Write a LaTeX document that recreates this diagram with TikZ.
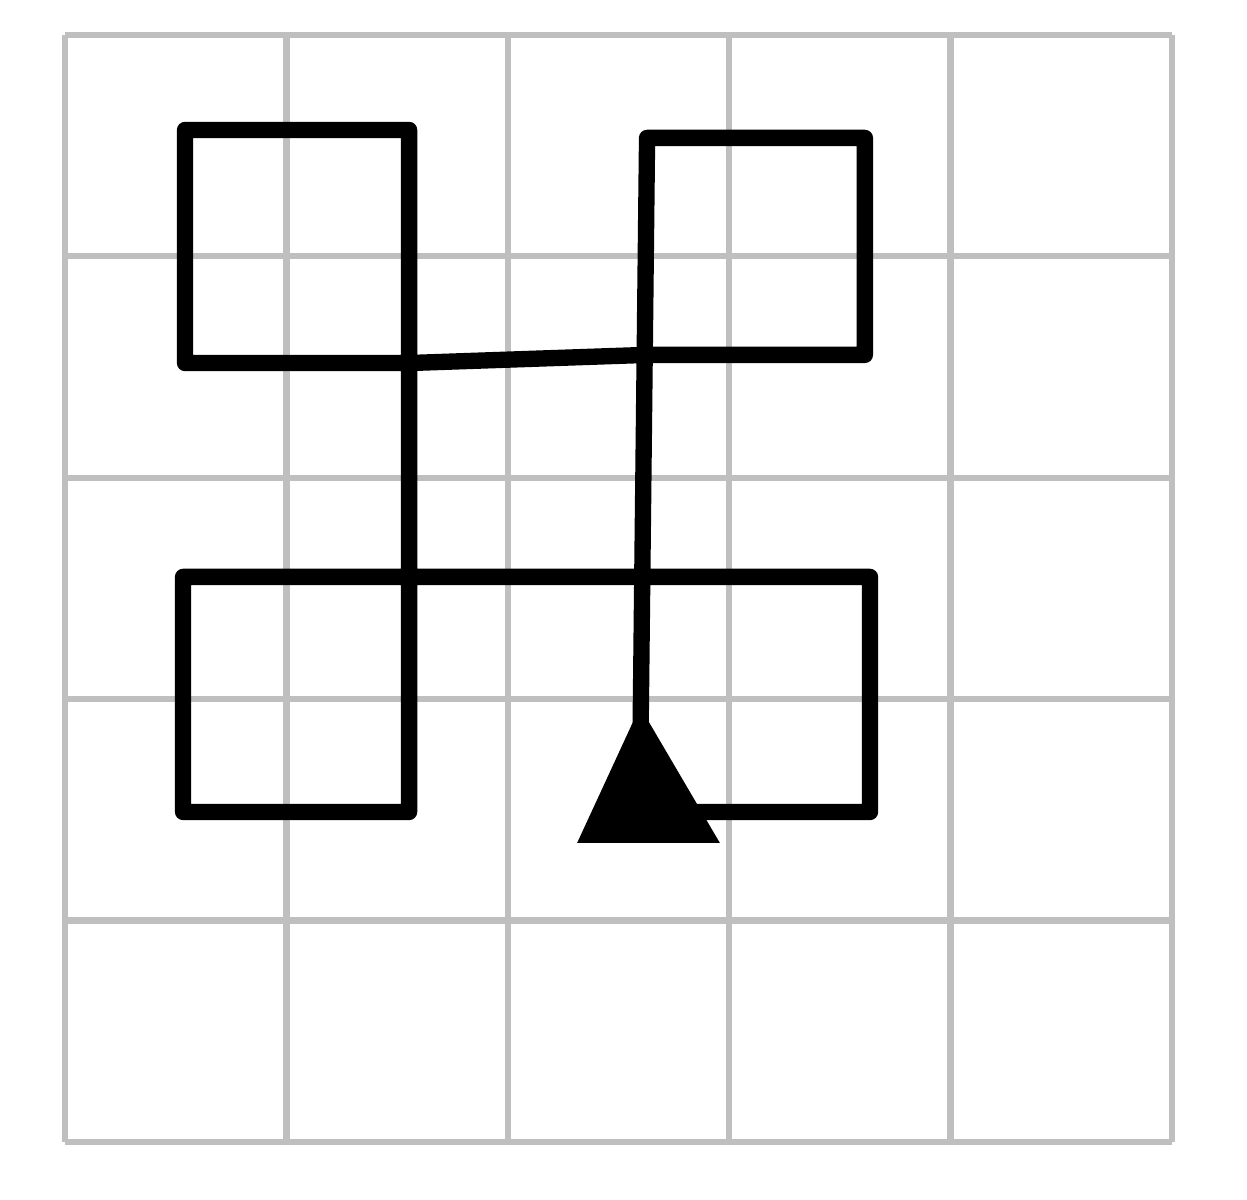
\documentclass[tikz,border=0pt]{standalone}
\usepackage{tikz}
\usetikzlibrary{positioning}

\begin{document}
\begin{tikzpicture}
\useasboundingbox (-0.294,-0.262) rectangle (5.339,5.158);

\begin{scope}[every path/.style={draw=gray!50,line width=0.8pt}]
    \foreach \i in {0,...,5} {
        \draw (\i,0) -- (\i,5);
        \draw (0,\i) -- (5,\i);
    }
\end{scope}

    \coordinate (S) at (2.600,1.490);
    \coordinate (BRb) at (3.636,1.490);
    \coordinate (BRt) at (3.636,2.552);
    \coordinate (BLt) at (0.533,2.552);
    \coordinate (BLb) at (0.533,1.490);
    \coordinate (Lb) at (1.554,1.490);
    \coordinate (Lt) at (1.554,4.571);
    \coordinate (TLt) at (0.542,4.571);
    \coordinate (TLb) at (0.542,3.518);
    \coordinate (Lm) at (1.554,3.518);
    \coordinate (Rm) at (2.629,3.555);
    \coordinate (TRb) at (3.613,3.555);
    \coordinate (TRt) at (3.613,4.535);
    \coordinate (Rt) at (2.629,4.535);
    \coordinate (E) at (2.597,1.600);

\begin{scope}[every path/.style={draw=black,line width=2.1pt,line join=round,line cap=round}]
     \draw (S) -- (BRb) -- (BRt) -- (BLt) -- (BLb) -- (Lb) -- (Lt)
           -- (TLt) -- (TLb) -- (Lm) -- (Rm) -- (TRb) -- (TRt) -- (Rt) -- (E);
\end{scope}

    % turtle
    \coordinate (Tip) at (2.597,1.965);
    \coordinate (Tl) at (2.313,1.350);
    \coordinate (Tr) at (2.958,1.350);
    \fill[black] (Tip) -- (Tl) -- (Tr) -- cycle;
\end{tikzpicture}
\end{document}
